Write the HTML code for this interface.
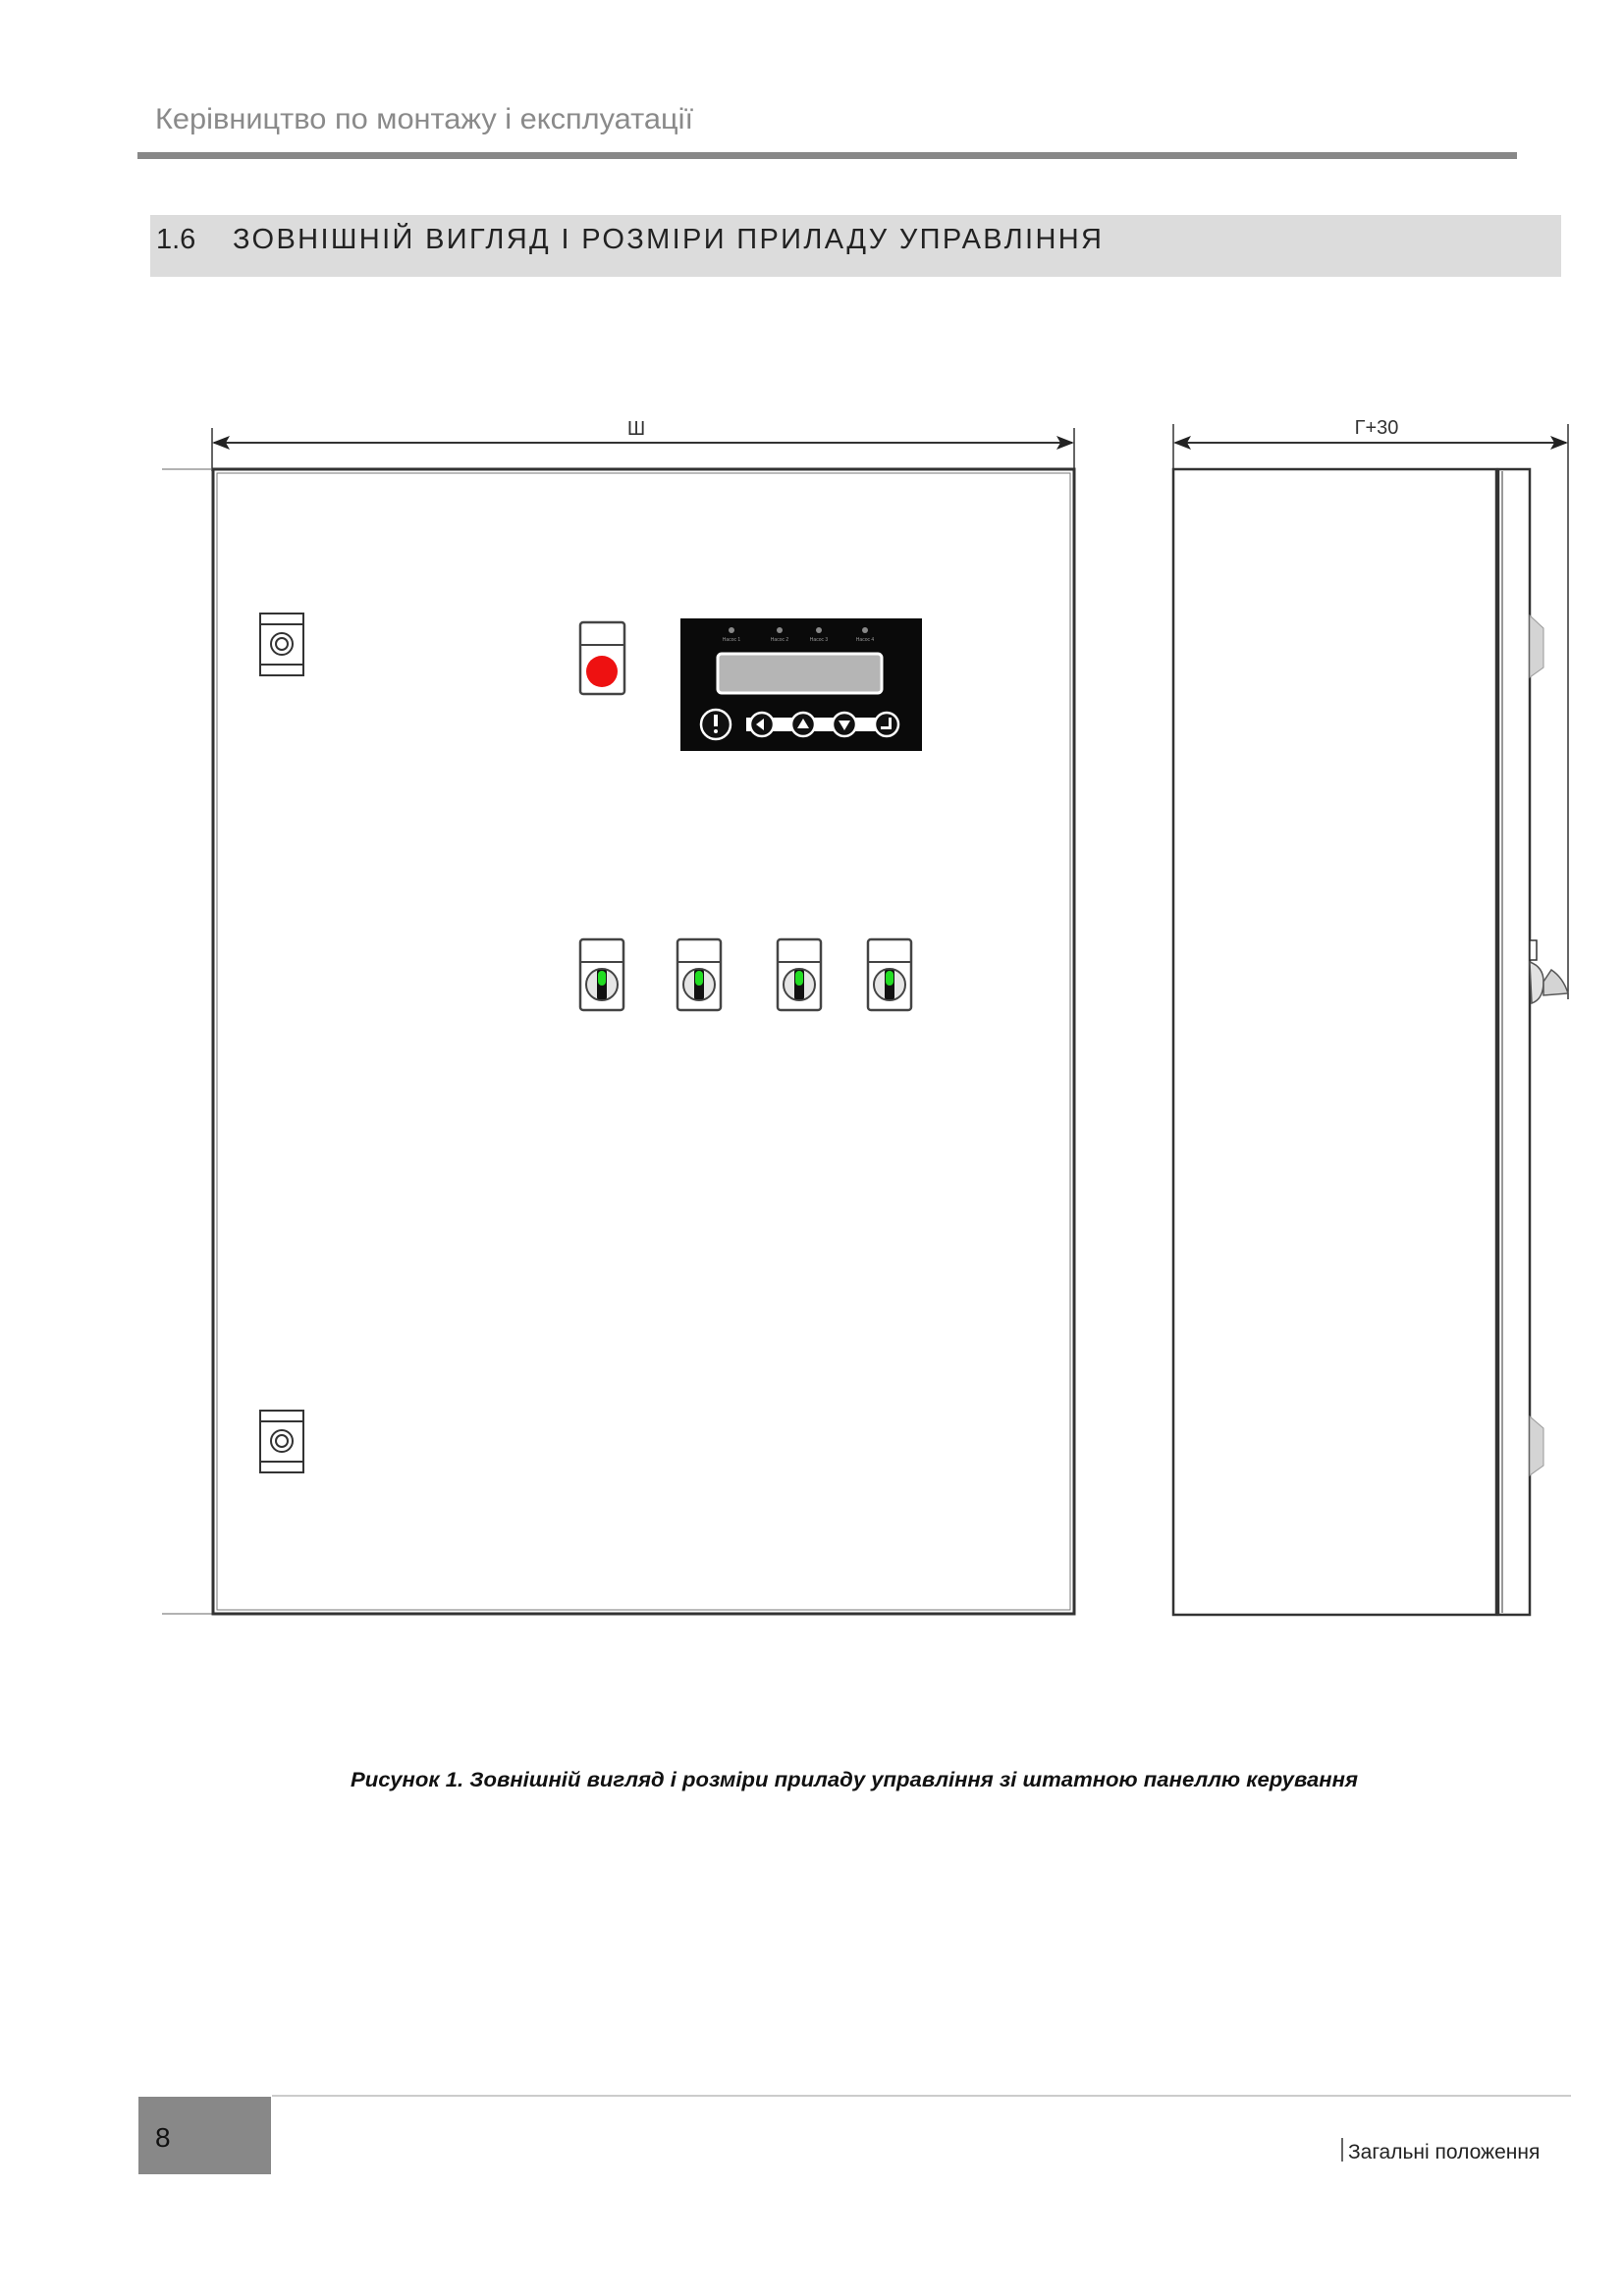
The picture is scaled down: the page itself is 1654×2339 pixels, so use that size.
<!DOCTYPE html>
<html><head><meta charset="utf-8"><style>
html,body{margin:0;padding:0;background:#fff}
svg{display:block}
</style></head><body>
<svg width="1654" height="2339" viewBox="0 0 1654 2339" xmlns="http://www.w3.org/2000/svg" font-family="Liberation Sans, DejaVu Sans, sans-serif">
<rect width="1654" height="2339" fill="#fff"/>
<text x="158" y="131" font-size="30" fill="#8a8a8a" textLength="548" lengthAdjust="spacingAndGlyphs">Керівництво по монтажу і експлуатації</text>
<rect x="140" y="155" width="1405" height="7" fill="#888"/>
<rect x="153" y="219" width="1437" height="63" fill="#dcdcdc"/>
<text x="159" y="253" font-size="29" fill="#222">1.6</text>
<text x="237" y="253" font-size="29" fill="#222" textLength="885" lengthAdjust="spacing">ЗОВНІШНІЙ ВИГЛЯД І РОЗМІРИ ПРИЛАДУ УПРАВЛІННЯ</text>

<!-- Front view -->
<g stroke="#333" fill="none">
<line x1="216" y1="436" x2="216" y2="480" stroke-width="1.5"/>
<line x1="1094" y1="436" x2="1094" y2="480" stroke-width="1.5"/>
<line x1="218" y1="451" x2="1092" y2="451" stroke-width="2"/>
<line x1="165" y1="478" x2="216" y2="478" stroke="#999" stroke-width="1.5"/>
<line x1="165" y1="1644" x2="216" y2="1644" stroke="#999" stroke-width="1.5"/>
<rect x="217" y="478" width="877" height="1166" stroke-width="3"/>
<rect x="221" y="482" width="869" height="1158" stroke-width="1" stroke="#777"/>
</g>
<polygon points="216,451 234,444 230,451 234,458" fill="#222"/>
<polygon points="1094,451 1076,444 1080,451 1076,458" fill="#222"/>
<text x="648" y="443" font-size="20" fill="#333" text-anchor="middle">Ш</text>
<!-- latches -->
<g stroke="#333" fill="#fff" stroke-width="2">
<rect x="265" y="625" width="44" height="63"/><line x1="265" y1="636" x2="309" y2="636"/><line x1="265" y1="677" x2="309" y2="677"/>
<circle cx="287" cy="656" r="11"/><circle cx="287" cy="656" r="6"/>
<rect x="265" y="1437" width="44" height="63"/><line x1="265" y1="1448" x2="309" y2="1448"/><line x1="265" y1="1489" x2="309" y2="1489"/>
<circle cx="287" cy="1468" r="11"/><circle cx="287" cy="1468" r="6"/>
</g>
<!-- red button -->
<rect x="591" y="634" width="45" height="73" rx="3" fill="#fff" stroke="#444" stroke-width="2.5"/>
<line x1="591" y1="657" x2="636" y2="657" stroke="#444" stroke-width="2"/>
<circle cx="613" cy="684" r="16" fill="#ee1111"/>
<!-- display -->
<rect x="693" y="630" width="246" height="135" fill="#0a0a0a"/>
<g fill="#888"><circle cx="745" cy="642" r="3"/><circle cx="794" cy="642" r="3"/><circle cx="834" cy="642" r="3"/><circle cx="881" cy="642" r="3"/></g>
<g fill="#999" font-size="5" text-anchor="middle"><text x="745" y="653">Насос 1</text><text x="794" y="653">Насос 2</text><text x="834" y="653">Насос 3</text><text x="881" y="653">Насос 4</text></g>
<rect x="731" y="666" width="167" height="40" rx="4" fill="#b5b5b5" stroke="#fff" stroke-width="3"/>
<rect x="760" y="731" width="150" height="14" fill="#fff"/>
<g stroke="#fff" stroke-width="2.5" fill="#111">
<circle cx="729" cy="738" r="15"/><circle cx="776" cy="738" r="12"/><circle cx="818" cy="738" r="12"/><circle cx="860" cy="738" r="12"/><circle cx="903" cy="738" r="12"/>
</g>
<g fill="#fff"><rect x="727" y="728" width="4" height="12"/><circle cx="729" cy="745" r="2"/>
<polygon points="770,738 778,732 778,744"/><polygon points="818,732 812,742 824,742"/><polygon points="860,744 854,734 866,734"/><polygon points="897,740 905,740 905,731 908,731 908,743 897,743"/></g>
<!-- switches -->
<g id="sw">
<rect x="591" y="957" width="44" height="72" rx="3" fill="#fff" stroke="#444" stroke-width="2.5"/>
<line x1="591" y1="980" x2="635" y2="980" stroke="#444" stroke-width="2"/>
<circle cx="613" cy="1003" r="16" fill="#e6e6e6" stroke="#444" stroke-width="2"/>
<rect x="608" y="988" width="10" height="30" rx="2" fill="#111"/>
<rect x="609" y="989" width="8" height="15" rx="4" fill="#22dd22"/>
</g>
<use href="#sw" x="99"/><use href="#sw" x="201"/><use href="#sw" x="293"/>

<!-- Side view -->
<g stroke="#333" fill="none">
<line x1="1195" y1="432" x2="1195" y2="480" stroke-width="1.5"/>
<line x1="1597" y1="432" x2="1597" y2="1018" stroke-width="1.5"/>
<line x1="1197" y1="451" x2="1595" y2="451" stroke-width="2"/>
<rect x="1195" y="478" width="329" height="1167" stroke-width="2.5"/>
<rect x="1526" y="478" width="32" height="1167" stroke-width="2.5"/>
<line x1="1530" y1="480" x2="1530" y2="1643" stroke-width="1"/>
</g>
<polygon points="1195,451 1213,444 1209,451 1213,458" fill="#222"/>
<polygon points="1597,451 1579,444 1583,451 1579,458" fill="#222"/>
<text x="1402" y="442" font-size="20" fill="#333" text-anchor="middle">Г+30</text>
<polygon points="1558,627 1572,640 1572,680 1558,690" fill="#d4d4d4" stroke="#999"/>
<polygon points="1558,1443 1572,1455 1572,1493 1558,1503" fill="#d4d4d4" stroke="#999"/>
<rect x="1558" y="958" width="7" height="20" fill="#fff" stroke="#333" stroke-width="1.5"/>
<path d="M1558,980 Q1572,985 1572,1000 Q1572,1018 1560,1022 Z" fill="#e2e2e2" stroke="#555" stroke-width="1.5"/>
<path d="M1572,1000 L1580,988 Q1592,996 1597,1012 L1572,1014 Z" fill="#d4d4d4" stroke="#555" stroke-width="1.5"/>

<text x="357" y="1820" font-size="21" font-weight="bold" font-style="italic" fill="#111" textLength="1026" lengthAdjust="spacingAndGlyphs">Рисунок 1. Зовнішній вигляд і розміри приладу управління зі штатною панеллю керування</text>

<line x1="277" y1="2135" x2="1600" y2="2135" stroke="#ccc" stroke-width="2"/>
<rect x="141" y="2136" width="135" height="79" fill="#888"/>
<text x="158" y="2187" font-size="28" fill="#111">8</text>
<line x1="1367" y1="2178" x2="1367" y2="2202" stroke="#333" stroke-width="1.5"/>
<text x="1373" y="2199" font-size="21" fill="#222">Загальні положення</text>
</svg>
</body></html>
